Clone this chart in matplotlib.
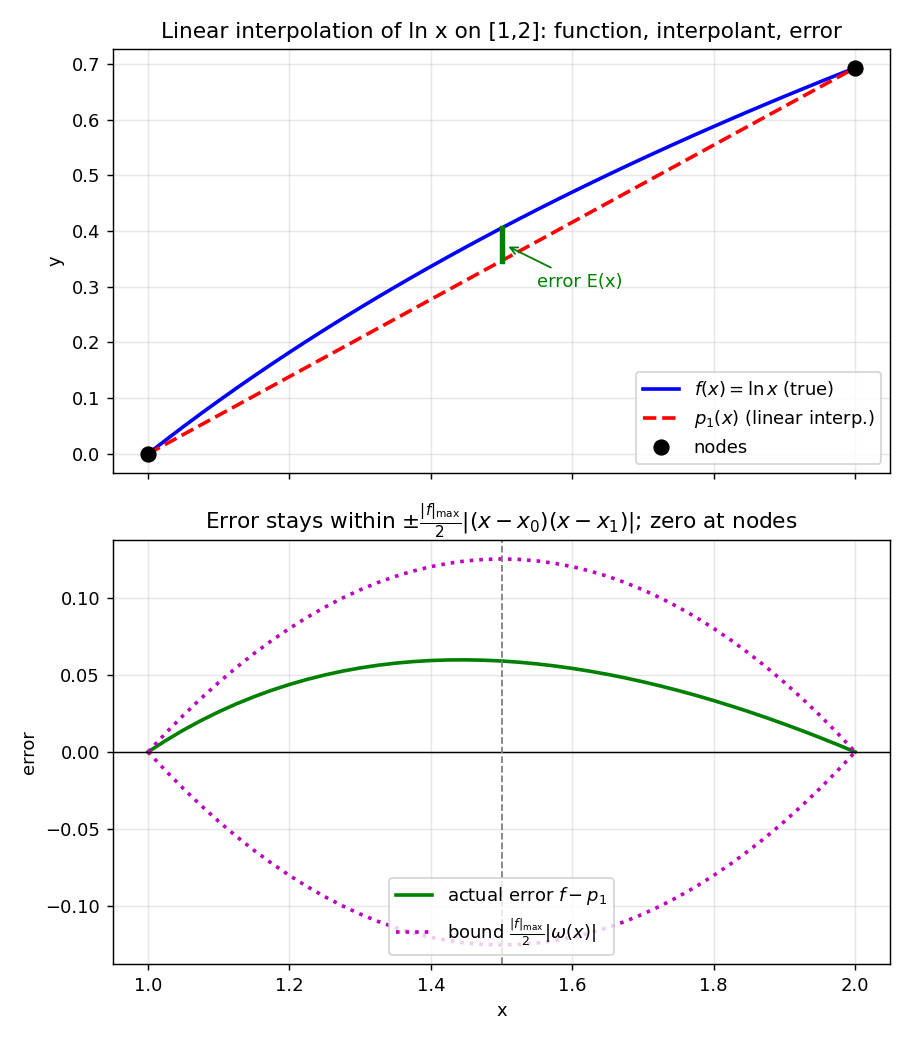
import matplotlib
matplotlib.use('Agg')
import matplotlib.pyplot as plt

# samples
xs = [1.000, 1.025, 1.050, 1.075, 1.100, 1.125, 1.150, 1.175, 1.200, 1.225, 1.250,
      1.275, 1.300, 1.325, 1.350, 1.375, 1.400, 1.425, 1.450, 1.475, 1.500,
      1.525, 1.550, 1.575, 1.600, 1.625, 1.650, 1.675, 1.700, 1.725, 1.750,
      1.775, 1.800, 1.825, 1.850, 1.875, 1.900, 1.925, 1.950, 1.975, 2.000]
f_vals = [0.0, 0.02469, 0.04879, 0.07232, 0.09531, 0.11778, 0.13976, 0.16127, 0.18232, 0.20294, 0.22314,
          0.24295, 0.26236, 0.28141, 0.30010, 0.31845, 0.33647, 0.35417, 0.37156, 0.38866, 0.40547,
          0.42200, 0.43825, 0.45426, 0.47000, 0.48551, 0.50078, 0.51583, 0.53063, 0.54522, 0.55962,
          0.57381, 0.58779, 0.60158, 0.61519, 0.62861, 0.64185, 0.65493, 0.66783, 0.68057, 0.69315]
p1_vals = [0.0, 0.01733, 0.03466, 0.05199, 0.06931, 0.08664, 0.10397, 0.12130, 0.13863, 0.15596, 0.17329,
           0.19062, 0.20794, 0.22527, 0.24260, 0.25993, 0.27726, 0.29459, 0.31192, 0.32925, 0.34657,
           0.36390, 0.38123, 0.39856, 0.41589, 0.43322, 0.45055, 0.46788, 0.48520, 0.50253, 0.51986,
           0.53719, 0.55452, 0.57185, 0.58918, 0.60651, 0.62383, 0.64116, 0.65849, 0.67582, 0.69315]
err_vals = [0.0, 0.00736, 0.01413, 0.02033, 0.02600, 0.03114, 0.03579, 0.03997, 0.04369, 0.04698, 0.04985,
            0.05233, 0.05442, 0.05614, 0.05750, 0.05852, 0.05921, 0.05958, 0.05964, 0.05941, 0.05890,
            0.05810, 0.05702, 0.05570, 0.05411, 0.05229, 0.05023, 0.04795, 0.04543, 0.04269, 0.03976,
            0.03662, 0.03327, 0.02973, 0.02601, 0.02210, 0.01802, 0.01377, 0.00934, 0.00475, 0.0]
bound_vals = [0.0, 0.01219, 0.02375, 0.03469, 0.045, 0.05469, 0.06375, 0.07219, 0.08, 0.08719, 0.09375,
              0.09969, 0.105, 0.10969, 0.11375, 0.11719, 0.12, 0.12219, 0.12375, 0.12469, 0.125,
              0.12469, 0.12375, 0.12219, 0.12, 0.11719, 0.11375, 0.10969, 0.105, 0.09969, 0.09375,
              0.08719, 0.08, 0.07219, 0.06375, 0.05469, 0.045, 0.03469, 0.02375, 0.01219, 0.0]
nodes_x = [1.0, 2.0]
nodes_y = [0.0, 0.69315]
mark_x = 1.5
mark_lo, mark_hi = 0.34657, 0.40547

fig, (ax1, ax2) = plt.subplots(2, 1, figsize=(7, 8), sharex=True)

ax1.plot(xs, f_vals, 'b-', lw=2, label=r'$f(x)=\ln x$ (true)')
ax1.plot(xs, p1_vals, 'r--', lw=2, label=r'$p_1(x)$ (linear interp.)')
ax1.plot(nodes_x, nodes_y, 'ko', ms=8, label='nodes', zorder=5)
ax1.plot([mark_x, mark_x], [mark_lo, mark_hi], color='green', lw=3)
ax1.annotate('error E(x)', xy=(mark_x + 0.005, 0.375), xytext=(1.55, 0.30),
             color='green', arrowprops=dict(arrowstyle='->', color='green'))
ax1.set_ylabel('y')
ax1.set_title('Linear interpolation of ln x on [1,2]: function, interpolant, error')
ax1.grid(True, alpha=0.3)
ax1.legend(loc='lower right')

ax2.plot(xs, err_vals, 'g-', lw=2, label=r'actual error $f-p_1$')
ax2.plot(xs, bound_vals, 'm:', lw=2, label=r'bound $\frac{|f|_{\max}}{2}|\omega(x)|$')
ax2.plot(xs, [-b for b in bound_vals], 'm:', lw=2)
ax2.axhline(0, color='k', lw=0.8)
ax2.axvline(1.5, color='gray', ls='--', lw=1)
ax2.set_xlabel('x')
ax2.set_ylabel('error')
ax2.set_title(r'Error stays within $\pm\frac{|f|_{\max}}{2}|(x-x_0)(x-x_1)|$; zero at nodes')
ax2.grid(True, alpha=0.3)
ax2.legend(loc='lower center')

fig.tight_layout()
fig.savefig('out.png', dpi=130)
